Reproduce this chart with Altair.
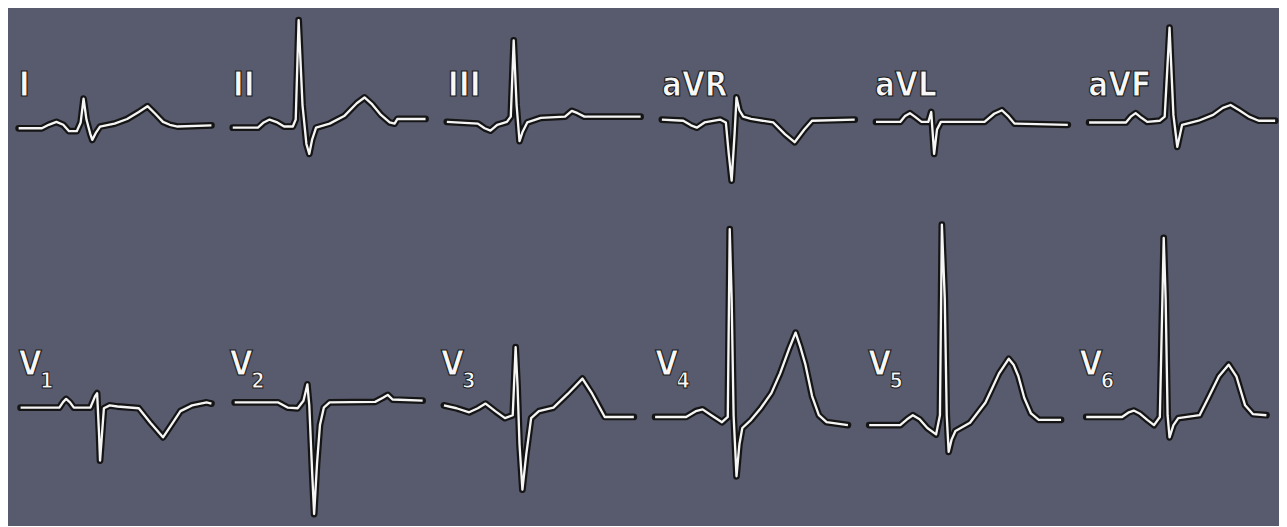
import altair as alt
import pandas as pd

# ---- data: time (ms) and amplitude (mV) vertices of each traced lead ----
I_t = [4, 100, 128, 160, 188, 212, 244, 260, 272, 284, 300, 308, 324, 340, 400, 452, 500, 536, 568, 600, 628, 660, 800]
I_mv = [-0.03, -0.03, 0.03, 0.08, 0.03, -0.08, -0.08, 0.07, 0.48, 0.12, -0.13, -0.23, -0.1, 0.0, 0.05, 0.13, 0.25, 0.35, 0.22, 0.08, 0.03, 0.0, 0.02]

II_t = [4, 108, 132, 156, 188, 216, 252, 264, 276, 292, 308, 320, 332, 348, 404, 464, 516, 548, 580, 616, 652, 672, 684, 800]
II_mv = [-0.02, -0.02, 0.07, 0.12, 0.07, 0.0, 0.0, 0.12, 1.83, 0.37, -0.3, -0.47, -0.22, -0.02, 0.05, 0.18, 0.4, 0.5, 0.38, 0.2, 0.07, 0.05, 0.13, 0.13]

III_t = [0, 128, 156, 180, 208, 248, 264, 276, 288, 300, 312, 332, 388, 488, 516, 540, 568, 800]
III_mv = [0.08, 0.05, -0.03, -0.07, 0.03, 0.08, 0.17, 1.48, 0.37, -0.25, -0.1, 0.07, 0.15, 0.17, 0.27, 0.23, 0.17, 0.17]

aVR_t = [4, 92, 124, 148, 180, 244, 268, 280, 292, 304, 312, 324, 340, 372, 464, 512, 552, 592, 624, 800]
aVR_mv = [0.12, 0.1, 0.02, -0.02, 0.07, 0.12, 0.07, -0.47, -0.93, -0.13, 0.5, 0.28, 0.17, 0.13, 0.07, -0.13, -0.27, -0.05, 0.1, 0.12]

aVL_t = [8, 108, 128, 148, 168, 196, 224, 236, 248, 260, 276, 456, 496, 528, 556, 580, 800]
aVL_mv = [0.08, 0.08, 0.18, 0.23, 0.17, 0.08, 0.08, 0.25, -0.47, -0.05, 0.08, 0.08, 0.22, 0.28, 0.17, 0.05, 0.03]

aVF_t = [8, 160, 180, 200, 224, 248, 300, 320, 340, 356, 372, 392, 460, 520, 560, 592, 628, 668, 708, 776]
aVF_mv = [0.07, 0.07, 0.17, 0.23, 0.15, 0.08, 0.1, 0.17, 1.7, 0.2, -0.35, 0.03, 0.1, 0.2, 0.32, 0.37, 0.28, 0.17, 0.1, 0.1]

V1_t = [12, 172, 188, 200, 216, 232, 300, 320, 328, 336, 340, 348, 356, 380, 412, 500, 548, 600, 640, 672, 720, 780, 800]
V1_mv = [0.13, 0.13, 0.23, 0.28, 0.22, 0.13, 0.13, 0.33, 0.38, -0.33, -0.78, -0.33, 0.12, 0.17, 0.15, 0.12, -0.13, -0.38, -0.13, 0.07, 0.17, 0.22, 0.2]

V2_t = [24, 204, 244, 284, 308, 324, 332, 344, 352, 364, 376, 392, 416, 604, 636, 656, 676, 800]
V2_mv = [0.22, 0.22, 0.13, 0.12, 0.25, 0.53, 0.17, -1.0, -1.7, -0.83, -0.17, 0.13, 0.22, 0.23, 0.3, 0.35, 0.27, 0.25]

V3_t = [16, 68, 120, 156, 188, 228, 268, 300, 312, 320, 328, 340, 356, 376, 408, 468, 528, 588, 628, 680, 800]
V3_mv = [0.17, 0.12, 0.05, 0.12, 0.2, 0.07, -0.05, 0.0, 1.17, 0.5, -0.5, -1.28, -0.67, -0.05, 0.07, 0.13, 0.37, 0.63, 0.37, -0.03, -0.03]

V4_t = [4, 132, 172, 200, 236, 280, 304, 312, 320, 328, 340, 352, 364, 400, 440, 484, 520, 556, 584, 604, 624, 652, 680, 712, 800]
V4_mv = [-0.03, -0.03, 0.07, 0.1, 0.0, -0.12, -0.03, 3.2, 2.0, 0.0, -1.05, -0.5, -0.22, -0.08, 0.12, 0.38, 0.72, 1.13, 1.42, 1.17, 0.88, 0.33, 0.0, -0.12, -0.17]

V5_t = [8, 136, 164, 188, 216, 248, 284, 300, 308, 320, 328, 336, 348, 364, 424, 488, 516, 544, 584, 604, 624, 648, 676, 708, 800]
V5_mv = [-0.17, -0.17, -0.07, 0.0, -0.07, -0.22, -0.33, 0.0, 3.28, 2.0, 0.0, -0.63, -0.42, -0.27, -0.13, 0.22, 0.47, 0.72, 0.97, 0.87, 0.67, 0.3, 0.03, -0.08, -0.08]

V6_t = [32, 180, 208, 228, 252, 284, 312, 336, 352, 360, 368, 376, 392, 412, 500, 540, 580, 620, 652, 688, 720, 776]
V6_mv = [-0.03, -0.03, 0.05, 0.08, 0.03, -0.08, -0.17, -0.03, 3.05, 2.0, 0.0, -0.38, -0.17, -0.05, 0.0, 0.33, 0.67, 0.87, 0.67, 0.17, 0.02, 0.0]

row1_names = ["I", "II", "III", "aVR", "aVL", "aVF"]
row1_data = [(I_t, I_mv), (II_t, II_mv), (III_t, III_mv), (aVR_t, aVR_mv), (aVL_t, aVL_mv), (aVF_t, aVF_mv)]
row2_names = ["V", "V", "V", "V", "V", "V"]
row2_subs = ["1", "2", "3", "4", "5", "6"]
row2_data = [(V1_t, V1_mv), (V2_t, V2_mv), (V3_t, V3_mv), (V4_t, V4_mv), (V5_t, V5_mv), (V6_t, V6_mv)]

BG = "#585b6d"
FONT = "'Liberation Sans Narrow', 'DejaVu Sans Condensed', 'Liberation Sans', sans-serif"


def panel(t, mv, ydom, height, width, tmax, label, label_y, sub=None):
    df = pd.DataFrame({"t": t, "mv": mv})
    x = alt.X("t:Q", scale=alt.Scale(domain=[0, tmax], nice=False, zero=False), axis=None)
    y = alt.Y("mv:Q", scale=alt.Scale(domain=ydom, nice=False, zero=False), axis=None)
    base = alt.Chart(df).encode(x=x, y=y)
    dark = base.mark_line(color="#151515", strokeWidth=7, strokeJoin="round", strokeCap="round")
    white = base.mark_line(color="#f5f5f5", strokeWidth=2.4, strokeJoin="round")
    lab = alt.Chart(pd.DataFrame({"label": [label]})).mark_text(
        font=FONT, fontSize=34, fontWeight="bold", color="#f8f8f8",
        stroke="#1a1a1a", strokeWidth=1.2, align="left", baseline="alphabetic"
    ).encode(text="label:N", x=alt.value(1), y=alt.value(label_y))
    layers = [dark, white, lab]
    if sub is not None:
        s = alt.Chart(pd.DataFrame({"label": [sub]})).mark_text(
            font=FONT, fontSize=22, fontWeight="bold", color="#f8f8f8",
            stroke="#1a1a1a", strokeWidth=1.0, align="left", baseline="alphabetic"
        ).encode(text="label:N", x=alt.value(23), y=alt.value(label_y + 14))
        layers.append(s)
    return alt.layer(*layers).properties(width=width, height=height)


row1 = []
for i, (name, (t, mv)) in enumerate(zip(row1_names, row1_data)):
    last = i == 5
    row1.append(panel(t, mv, [-1.3, 1.9], 192, 194 if last else 200, 776 if last else 800, name, 82))

row2 = []
for i, (name, sub, (t, mv)) in enumerate(zip(row2_names, row2_subs, row2_data)):
    last = i == 5
    row2.append(panel(t, mv, [-1.65, 3.5], 309, 194 if last else 200, 776 if last else 800, name, 168, sub))

chart = alt.vconcat(
    alt.hconcat(*row1, spacing=14),
    alt.hconcat(*row2, spacing=14),
    spacing=10,
).properties(
    padding={"left": 7, "top": 0, "right": 0, "bottom": 0}
).configure(background=BG).configure_view(stroke=None)

chart.save("out.html", embed_options={"renderer": "svg", "actions": False})
